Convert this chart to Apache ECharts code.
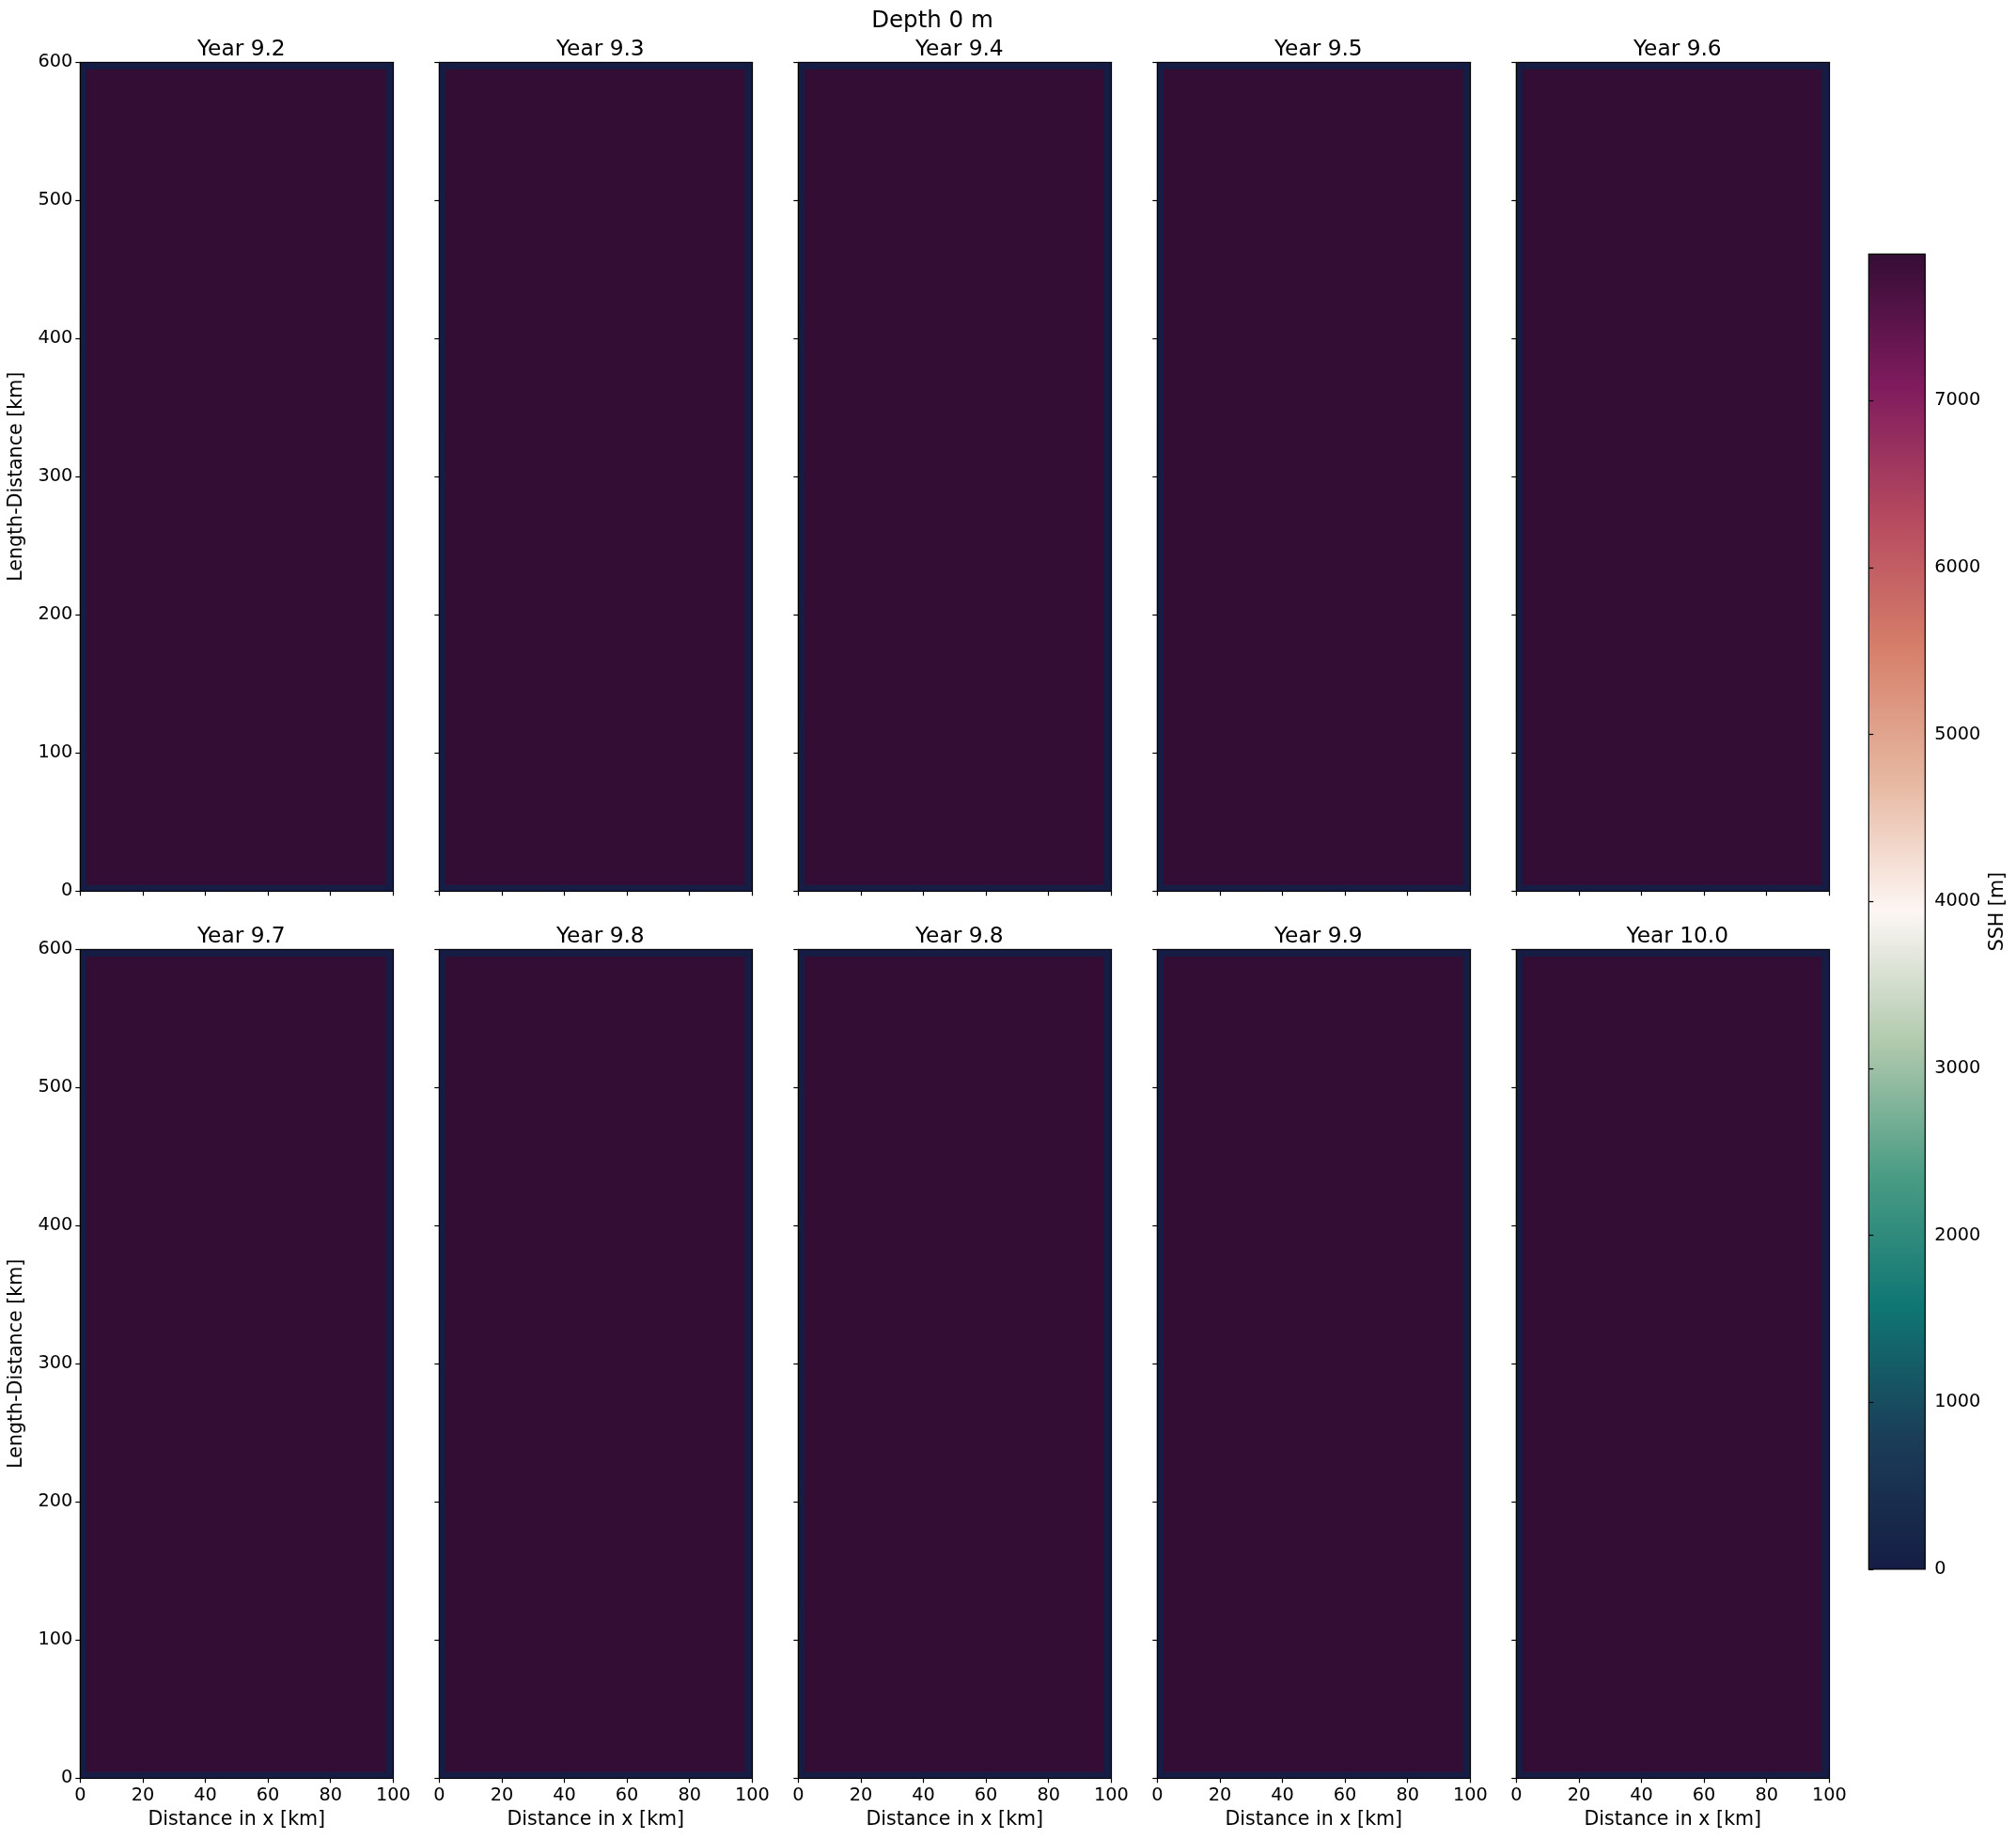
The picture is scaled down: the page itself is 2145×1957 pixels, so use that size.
<!DOCTYPE html>
<html>
<head>
    <meta charset="UTF-8">
    <title>Depth 0 m - SSH</title>
</head>
<body style="margin: 0;background: #fff;">
<div id="main" style="width: 2145px;height: 1957px;"></div>

<script type="text/javascript" src="https://cdn.jsdelivr.net/npm/echarts@6/dist/echarts.min.js"></script>
<script>
    // panel titles (years), one per subplot
    var yearLabels = ['9.2', '9.3', '9.4', '9.5', '9.6', '9.7', '9.8', '9.8', '9.9', '10.0'];
    // SSH inside the basin for each panel, and on the boundary cells
    var basinSSH = [7877, 7877, 7877, 7877, 7877, 7877, 7877, 7877, 7877, 7877];
    var wallSSH = 0;
    // cell edges (km): boundary cells and basin interior
    var xEdges = [0, 2.2, 97.8, 100];
    var yEdges = [0, 4.8, 595.2, 600];
    var sshMax = 7877;
    var cbarTicks = [0, 1000, 2000, 3000, 4000, 5000, 6000, 7000];
    // curl-like colormap, evenly spaced from 0 to sshMax
    var cmap = ['#151d44', '#1b3d58', '#0f7673', '#4a9c84', '#b0c9ad', '#fdf6f4',
        '#e6b7a0', '#d67f6a', '#b5495f', '#7f1b5e', '#340d35'];

    var font = 'DejaVu Sans';
    var colLeft = [85.3, 467.3, 849.3, 1231.3, 1613.3];
    var rowTop = [66.3, 1010.3];
    var panelW = 333, panelH = 882;

    var chart = echarts.init(document.getElementById('main'));

    function panelCells(p) {
        var cells = [];
        for (var i = 0; i < 3; i++) {
            for (var j = 0; j < 3; j++) {
                var v = (i === 1 && j === 1) ? basinSSH[p] : wallSSH;
                cells.push([xEdges[i], xEdges[i + 1], yEdges[j], yEdges[j + 1], v]);
            }
        }
        return cells;
    }

    function renderCell(params, api) {
        var a = api.coord([api.value(0), api.value(2)]);
        var b = api.coord([api.value(1), api.value(3)]);
        var col = api.visual('color');
        return {
            type: 'rect',
            shape: {
                x: Math.min(a[0], b[0]), y: Math.min(a[1], b[1]),
                width: Math.abs(b[0] - a[0]), height: Math.abs(b[1] - a[1])
            },
            style: {fill: col, stroke: col, lineWidth: 1}
        };
    }

    var grids = [], xAxes = [], yAxes = [], series = [], titles = [];
    var line = {show: true, onZero: false, lineStyle: {color: '#000', width: 1.2}};
    var tick = {show: true, length: 5, lineStyle: {color: '#000', width: 1.2}};
    var label = {color: '#000', fontFamily: font, fontSize: 19.3};

    titles.push({
        text: 'Depth 0 m', left: 987, top: 5, textAlign: 'center',
        textStyle: {fontFamily: font, fontSize: 24.5, fontWeight: 'normal', color: '#000'}
    });

    for (var p = 0; p < 10; p++) {
        var r = Math.floor(p / 5), c = p % 5;
        grids.push({left: colLeft[c], top: rowTop[r], width: panelW, height: panelH, containLabel: false});
        titles.push({
            text: 'Year ' + yearLabels[p], left: colLeft[c] + panelW / 2, top: rowTop[r] - 30,
            textAlign: 'center',
            textStyle: {fontFamily: font, fontSize: 23.3, fontWeight: 'normal', color: '#000'}
        });
        var xi = xAxes.length, yi = yAxes.length;
        xAxes.push({
            gridIndex: p, type: 'value', min: 0, max: 100, interval: 20, position: 'bottom', z: 5,
            axisLine: line, axisTick: tick, splitLine: {show: false},
            axisLabel: Object.assign({show: r === 1, margin: 9}, label),
            name: r === 1 ? 'Distance in x [km]' : '', nameLocation: 'middle', nameGap: 34,
            nameTextStyle: {fontFamily: font, fontSize: 20.6, color: '#000'}
        });
        xAxes.push({
            gridIndex: p, type: 'value', min: 0, max: 100, position: 'top', z: 5,
            axisLine: line, axisTick: {show: false}, axisLabel: {show: false}, splitLine: {show: false}
        });
        yAxes.push({
            gridIndex: p, type: 'value', min: 0, max: 600, interval: 100, position: 'left', z: 5,
            axisLine: line, axisTick: tick, splitLine: {show: false},
            axisLabel: Object.assign({show: c === 0, margin: 8}, label),
            name: c === 0 ? 'Length-Distance [km]' : '', nameLocation: 'middle', nameGap: 57,
            nameRotate: 90,
            nameTextStyle: {fontFamily: font, fontSize: 20.6, color: '#000'}
        });
        yAxes.push({
            gridIndex: p, type: 'value', min: 0, max: 600, position: 'right', z: 5,
            axisLine: line, axisTick: {show: false}, axisLabel: {show: false}, splitLine: {show: false}
        });
        series.push({
            type: 'custom', xAxisIndex: xi, yAxisIndex: yi, silent: true,
            renderItem: renderCell,
            encode: {x: [0, 1], y: [2, 3]},
            data: panelCells(p)
        });
    }

    // colorbar
    var cbGrid = grids.length;
    grids.push({left: 1988.3, top: 270.3, width: 60, height: 1399.7});
    xAxes.push({gridIndex: cbGrid, type: 'value', min: 0, max: 1, show: false});
    yAxes.push({
        gridIndex: cbGrid, type: 'value', min: 0, max: sshMax, position: 'right', z: 5,
        axisLine: {show: false}, splitLine: {show: false},
        axisTick: Object.assign({customValues: cbarTicks}, tick),
        axisLabel: Object.assign({
            customValues: cbarTicks, margin: 10,
            formatter: function (v) { return String(v); }
        }, label),
        name: 'SSH [m]', nameLocation: 'middle', nameGap: 67, nameRotate: 90,
        nameTextStyle: {fontFamily: font, fontSize: 20.6, color: '#000'}
    });
    var stops = cmap.map(function (col, k) {
        return {offset: k / (cmap.length - 1), color: col};
    });
    series.push({
        type: 'custom', xAxisIndex: xAxes.length - 1, yAxisIndex: yAxes.length - 1, silent: true,
        data: [[0, 1, 0, sshMax]],
        encode: {x: [0, 1], y: [2, 3]},
        renderItem: function (params, api) {
            var a = api.coord([api.value(0), api.value(2)]);
            var b = api.coord([api.value(1), api.value(3)]);
            return {
                type: 'rect',
                shape: {x: a[0], y: b[1], width: b[0] - a[0], height: a[1] - b[1]},
                style: {
                    fill: {type: 'linear', x: 0, y: 1, x2: 0, y2: 0, colorStops: stops},
                    stroke: '#000', lineWidth: 1.2
                }
            };
        }
    });

    var option = {
        backgroundColor: '#fff',
        animation: false,
        title: titles,
        grid: grids,
        xAxis: xAxes,
        yAxis: yAxes,
        visualMap: {
            show: false, type: 'continuous', min: 0, max: sshMax, dimension: 4,
            seriesIndex: series.map(function (s, k) { return k; }).slice(0, 10),
            inRange: {color: cmap}
        },
        series: series
    };
    chart.setOption(option);
</script>
</body>
</html>
